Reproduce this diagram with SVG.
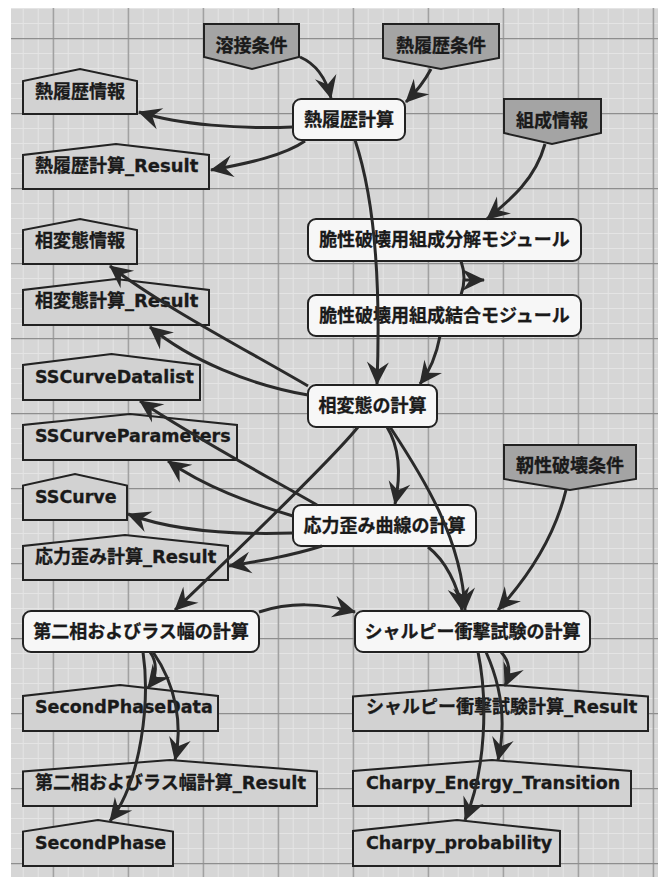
<svg xmlns="http://www.w3.org/2000/svg" width="658" height="877" viewBox="0 0 658 877">
<style>
.bg{fill:#d6d6d6}
.out{fill:#d2d2d2;stroke:#222;stroke-width:2}
.in{fill:#a4a4a4;stroke:#222;stroke-width:2}
.proc{fill:#f7f7f7;stroke:#222;stroke-width:2}
.t{font-family:"DejaVu Sans","Noto Sans CJK JP",sans-serif;font-weight:bold;font-size:18px;fill:#1a1a1a;stroke:#1a1a1a;stroke-width:0.3}
.l{font-size:17.5px}
.c{text-anchor:middle}
.e{fill:none;stroke:#2a2a2a;stroke-width:3}
</style>
<defs>
<pattern id="minor" patternUnits="userSpaceOnUse" x="7.7" y="8" width="15" height="15">
<path d="M0,0.5 H15 M0.5,0 V15" stroke="#e4e4e4" stroke-width="1" fill="none"/>
</pattern>
<pattern id="major" patternUnits="userSpaceOnUse" x="52.7" y="38" width="75" height="75">
<path d="M0,0.5 H75 M0.5,0 V75" stroke="#8e8e8e" stroke-width="1.5" fill="none"/>
</pattern>
<marker id="ah" markerUnits="userSpaceOnUse" markerWidth="27" markerHeight="26" viewBox="-25 -13 27 26" refX="-1" refY="0" orient="auto">
<path d="M0,0 L-23,-11 L-15,0 L-23,11 Z" fill="#2a2a2a"/>
</marker>
</defs>
<rect width="658" height="877" fill="#ffffff"/>
<rect x="11" y="8" width="647" height="869" class="bg"/>
<rect x="11" y="8" width="647" height="869" fill="url(#minor)"/>
<rect x="11" y="8" width="647" height="869" fill="url(#major)"/>

<g id="n-yousetsu"><polygon class="in" points="204,24 299,24 299,57 252,69 204,57"/><text class="t c" x="251.5" y="52">溶接条件</text></g>
<g id="n-netsurirekijoken"><polygon class="in" points="383,24 499,24 499,58 441,69 383,58"/><text class="t c" x="441" y="52">熱履歴条件</text></g>
<g id="n-soseijoho"><polygon class="in" points="504,99 601,99 601,133 552,144 504,133"/><text class="t c" x="552" y="127">組成情報</text></g>
<g id="n-jinsei"><polygon class="in" points="504,445 636,445 636,479 570,490 504,479"/><text class="t c" x="570" y="472">靭性破壊条件</text></g>

<g id="n-netsurireki-keisan"><rect class="proc" x="293" y="99" width="112" height="41" rx="8"/><text class="t c" x="349" y="126">熱履歴計算</text></g>
<g id="n-bunkai"><rect class="proc" x="308" y="219" width="273" height="42" rx="8"/><text class="t c" x="444.5" y="246">脆性破壊用組成分解モジュール</text></g>
<g id="n-ketsugo"><rect class="proc" x="308" y="295" width="273" height="41" rx="8"/><text class="t c" x="444.5" y="322">脆性破壊用組成結合モジュール</text></g>
<g id="n-sohentai"><rect class="proc" x="308" y="385" width="129" height="42" rx="8"/><text class="t c" x="372.5" y="412">相変態の計算</text></g>
<g id="n-oryoku"><rect class="proc" x="293" y="505" width="183" height="41" rx="8"/><text class="t c" x="384.5" y="532">応力歪み曲線の計算</text></g>
<g id="n-dainiso"><rect class="proc" x="23" y="611" width="236" height="41" rx="8"/><text class="t c" x="141" y="638">第二相およびラス幅の計算</text></g>
<g id="n-charpy"><rect class="proc" x="355" y="611" width="235" height="41" rx="8"/><text class="t c" x="472.5" y="638">シャルピー衝撃試験の計算</text></g>

<g id="o-netsurirekijoho"><polygon class="out" points="23,81 23,114 137,114 137,81 80,69"/><text class="t" x="35" y="97.5">熱履歴情報</text></g>
<g id="o-netsurireki-result"><polygon class="out" points="23,155 23,189 209,189 209,155 116,144"/><text class="t" x="35" y="172">熱履歴計算_Result</text></g>
<g id="o-sohentaijoho"><polygon class="out" points="23,230 23,264 137,264 137,230 80,219"/><text class="t" x="35" y="247">相変態情報</text></g>
<g id="o-sohentai-result"><polygon class="out" points="23,290 23,325 209,325 209,290 116,279"/><text class="t" x="35" y="307">相変態計算_Result</text></g>
<g id="o-sscd"><polygon class="out" points="23,365 23,400 200,400 200,365 111.5,354"/><text class="t l" x="35" y="383">SSCurveDatalist</text></g>
<g id="o-sscp"><polygon class="out" points="23,425 23,460 237,460 237,425 130,414"/><text class="t l" x="35" y="442">SSCurveParameters</text></g>
<g id="o-ssc"><polygon class="out" points="23,485.5 23,520 127,520 127,485.5 75,474"/><text class="t l" x="35" y="502.5">SSCurve</text></g>
<g id="o-oryoku-result"><polygon class="out" points="23,546 23,580 228,580 228,546 125,535"/><text class="t" x="35" y="563">応力歪み計算_Result</text></g>
<g id="o-spd"><polygon class="out" points="23,696 23,731 218,731 218,696 120,685"/><text class="t l" x="35" y="713">SecondPhaseData</text></g>
<g id="o-dainiso-result"><polygon class="out" points="23,771.5 23,806 317,806 317,771.5 170,760"/><text class="t" x="35" y="788.5">第二相およびラス幅計算_Result</text></g>
<g id="o-sp"><polygon class="out" points="23,831.5 23,866 173,866 173,831.5 98,820"/><text class="t l" x="35" y="848.5">SecondPhase</text></g>
<g id="o-charpy-result"><polygon class="out" points="353,696.5 353,731 648,731 648,696.5 500.5,685"/><text class="t" x="366" y="713">シャルピー衝撃試験計算_Result</text></g>
<g id="o-cet"><polygon class="out" points="353,771 353,806 631,806 631,771 492,760"/><text class="t l" x="366" y="788.5">Charpy_Energy_Transition</text></g>
<g id="o-cp"><polygon class="out" points="353,831 353,866 560,866 560,831 457,820"/><text class="t l" x="366" y="848.5">Charpy_probability</text></g>

<g id="connectors">
<path class="e" marker-end="url(#ah)" d="M300,57 C316,64 326,78 331,98"/>
<path class="e" marker-end="url(#ah)" d="M431,69 Q422,86 406,102"/>
<path class="e" marker-end="url(#ah)" d="M293,127 C240,129 180,125 139,112"/>
<path class="e" marker-end="url(#ah)" d="M305,141 C285,155 250,163 211,170"/>
<path class="e" marker-end="url(#ah)" d="M355,140 C375,200 381,280 377,384"/>
<path class="e" marker-end="url(#ah)" d="M545,144 C535,180 510,200 487,219"/>
<path class="e" marker-end="url(#ah)" d="M461,261 Q467,278 461,295 M464,280 L484,280"/>
<path class="e" marker-end="url(#ah)" d="M440,336 C437,352 432,368 420,384"/>
<path class="e" marker-end="url(#ah)" d="M308,386 C250,352 160,305 110,266"/>
<path class="e" marker-end="url(#ah)" d="M308,395 C250,385 190,360 150,327"/>
<path class="e" marker-end="url(#ah)" d="M317,505 C270,478 190,435 140,401"/>
<path class="e" marker-end="url(#ah)" d="M293,516 C250,503 205,487 168,461"/>
<path class="e" marker-end="url(#ah)" d="M293,533 C230,535 170,530 128,514"/>
<path class="e" marker-end="url(#ah)" d="M322,546 C290,556 260,561 229,566"/>
<path class="e" marker-end="url(#ah)" d="M358,427 C330,462 220,567 175,610"/>
<path class="e" marker-end="url(#ah)" d="M387,427 C398,445 402,470 395,504"/>
<path class="e" marker-end="url(#ah)" d="M390,427 C425,480 462,540 465,610"/>
<path class="e" marker-end="url(#ah)" d="M428,547 C445,560 458,585 462,610"/>
<path class="e" marker-end="url(#ah)" d="M566,490 C555,535 530,575 498,610"/>
<path class="e" marker-end="url(#ah)" d="M259,612 C290,602 320,603 355,612"/>
<path class="e" marker-end="url(#ah)" d="M150,652 C157,662 158,675 148,688"/>
<path class="e" marker-end="url(#ah)" d="M153,652 C176,685 183,725 175,760"/>
<path class="e" marker-end="url(#ah)" d="M143,652 C150,700 142,780 110,821"/>
<path class="e" marker-end="url(#ah)" d="M501,652 C510,662 511,672 505,686"/>
<path class="e" marker-end="url(#ah)" d="M486,652 C503,690 506,725 498,760"/>
<path class="e" marker-end="url(#ah)" d="M478,652 C488,700 486,770 465,820"/>
</g>
</svg>
